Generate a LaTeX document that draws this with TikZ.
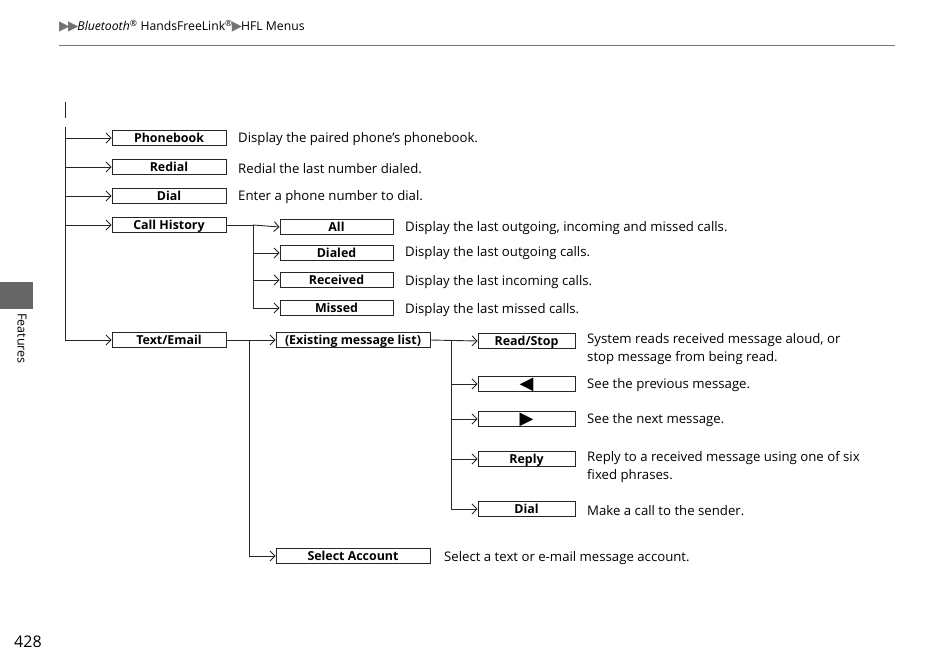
\documentclass[tikz,border=0pt]{standalone}
\usepackage{fontspec}
\setmainfont{Open Sans}
\newfontfamily\symfont{DejaVu Sans}
\usetikzlibrary{arrows.meta}
\begin{document}
\begin{tikzpicture}[x=1pt,y=-1pt,
  box/.style={draw=black!85,line width=0.8pt,inner sep=0pt,minimum height=15pt,
    font=\fontsize{12.4}{12}\selectfont\bfseries,text depth=0pt},
  lvA/.style={box,minimum width=114pt},
  lvB/.style={box,minimum width=113pt},
  lvC/.style={box,minimum width=154pt},
  lvD/.style={box,minimum width=97pt},
  desc/.style={anchor=west,inner sep=0pt,yshift=-1.5pt,font=\fontsize{13.2}{18}\selectfont,align=left},
  ln/.style={draw=black!85,line width=0.9pt},
  arr/.style={ln,-{Straight Barb[length=5pt,width=10pt,line width=0.9pt]}}]
\useasboundingbox (0,0) rectangle (950,669);
% header
\node[anchor=west,inner sep=0pt,font=\fontsize{12.2}{12}\selectfont] (hdr) at (59,26)
  {{\symfont\color{black!55}\fontsize{13.5}{12}\selectfont ▶\kern-1.5pt▶\kern-1pt}\textit{Bluetooth}\textsuperscript{®} HandsFreeLink\textsuperscript{®}{\symfont\color{black!55}\fontsize{13.5}{12}\selectfont\kern-1pt▶\kern-1pt}HFL Menus};
\draw[black!55,line width=0.9pt] (59,45) -- (895,45);
% side tab
\fill[black!60] (0,282) rectangle (33,309);
\node[rotate=-90,anchor=west,inner sep=0pt,font=\fontsize{12.5}{12}\selectfont] (feat) at (22,313) {Features};
\node[anchor=west,inner sep=0pt,font=\fontsize{16}{18}\selectfont] (pg) at (14,642) {428};
% small bar
\draw[ln] (65,102) -- (65,118);
% level 1
\node[lvA] (pb) at (169,138) {Phonebook};
\node[lvA] (rd) at (169,167) {Redial};
\node[lvA] (dl) at (169,196) {Dial};
\node[lvA] (ch) at (169,225) {Call History};
\node[lvA] (te) at (169,340) {Text/Email};
\coordinate (t1) at (65,127);
\draw[ln] (t1) -- (t1 |- te);
\foreach \n in {pb,rd,dl,ch,te} \draw[arr] (t1 |- \n) -- (\n.west);
\node[desc] at (238,138) {Display the paired phone’s phonebook.};
\node[desc] at (238,167) {Redial the last number dialed.};
\node[desc] at (238,196) {Enter a phone number to dial.};
% call history
\node[lvB] (all) at (336.5,227) {All};
\node[lvB] (dld) at (336.5,253) {Dialed};
\node[lvB] (rcv) at (336.5,280) {Received};
\node[lvB] (mis) at (336.5,308) {Missed};
\coordinate (t2) at (253,227);
\draw[ln] (ch.east) -- (t2 |- ch) -- (t2 |- mis);
\draw[arr] (t2 |- ch) -- (all.west);
\foreach \n in {dld,rcv,mis} \draw[arr] (t2 |- \n) -- (\n.west);
\node[desc] at (405,227) {Display the last outgoing, incoming and missed calls.};
\node[desc] at (405,252) {Display the last outgoing calls.};
\node[desc] at (405,281) {Display the last incoming calls.};
\node[desc] at (405,309) {Display the last missed calls.};
% text/email
\node[lvC] (eml) at (353,340) {(Existing message list)};
\node[lvC] (sa) at (353,556) {Select Account};
\coordinate (t3) at (249,340);
\draw[ln] (t3 |- te) -- (t3 |- sa);
\draw[arr] (te.east) -- (eml.west);
\draw[arr] (t3 |- sa) -- (sa.west);
\node[desc] at (444,557) {Select a text or e-mail message account.};
% message list
\node[lvD] (rs) at (526.5,341) {Read/Stop};
\node[lvD] (pv) at (526.5,384) {{\symfont\fontsize{18}{12}\selectfont ◀}};
\node[lvD] (nx) at (526.5,419) {{\symfont\fontsize{18}{12}\selectfont ▶}};
\node[lvD] (rp) at (526.5,459) {Reply};
\node[lvD] (dl2) at (526.5,509) {Dial};
\coordinate (t4) at (451,341);
\draw[ln] (t4 |- rs) -- (t4 |- dl2);
\draw[arr] (eml.east) -- (rs.west);
\foreach \n in {pv,nx,rp,dl2} \draw[arr] (t4 |- \n) -- (\n.west);
\node[desc,anchor=north west] at (587,332) {System reads received message aloud, or\\stop message from being read.};
\node[desc] at (587,384) {See the previous message.};
\node[desc] at (587,419) {See the next message.};
\node[desc,anchor=north west] at (587,450) {Reply to a received message using one of six\\fixed phrases.};
\node[desc] at (587,509) {Make a call to the sender.};
\end{tikzpicture}
\end{document}
